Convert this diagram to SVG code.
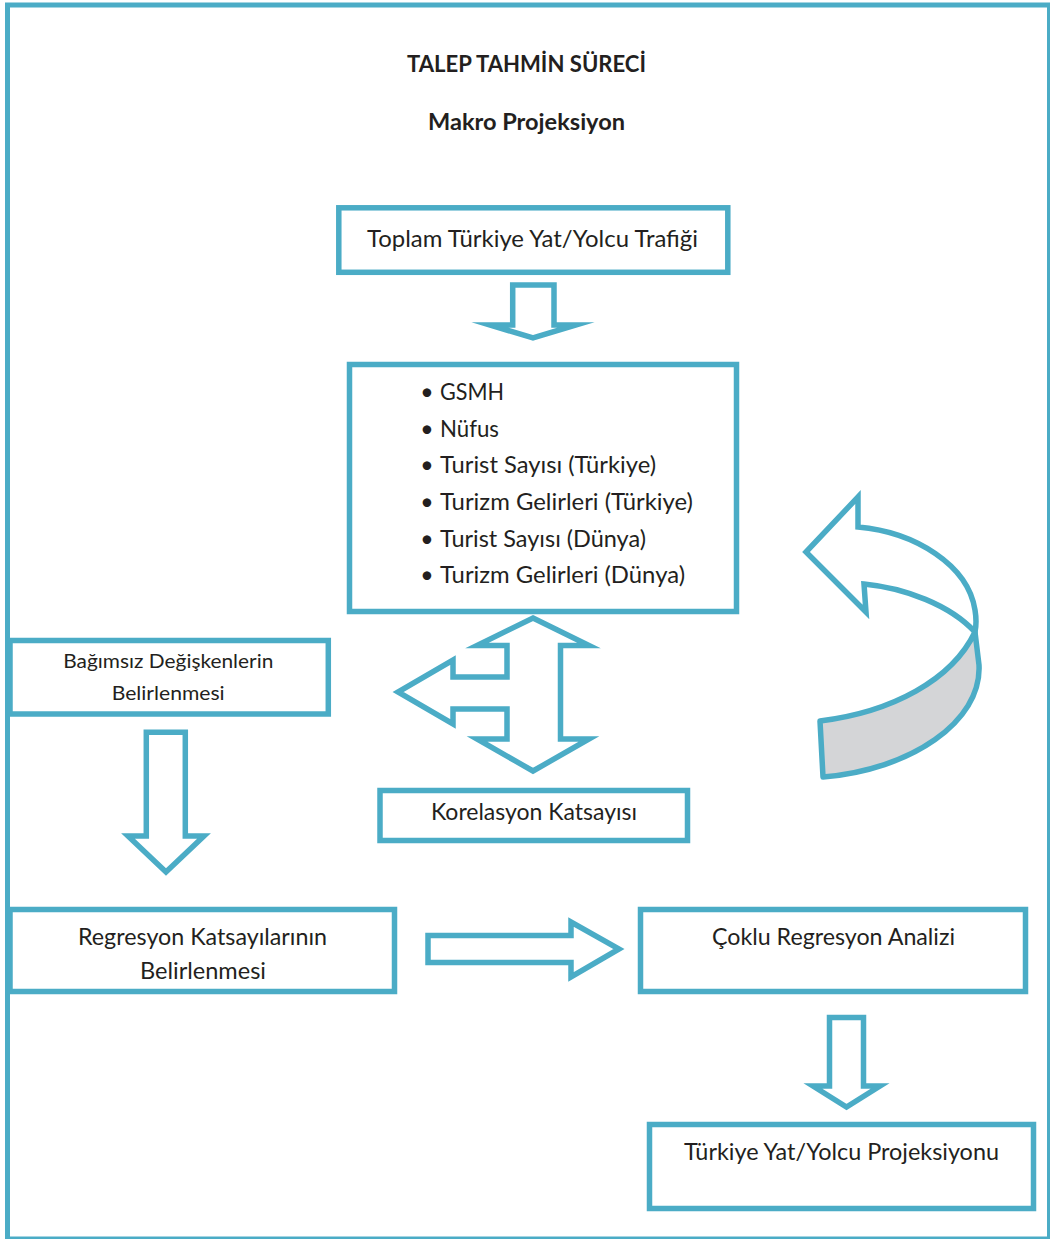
<svg xmlns="http://www.w3.org/2000/svg" width="1050" height="1239" viewBox="0 0 1050 1239">
<style>
.box{fill:#fff;stroke:#4BACC6;stroke-width:5.5}
.arr{fill:#fff;stroke:#4BACC6;stroke-width:5.5;stroke-linejoin:miter;stroke-miterlimit:10}
.t{font-family:Lato,"Open Sans","Liberation Sans",sans-serif;font-size:23px;fill:#231F20}
.s{font-size:19.5px}
.b{font-weight:bold;font-size:22px}
</style>
<rect x="0" y="0" width="1050" height="1239" fill="#fff"/>
<rect id="frame" x="7.5" y="5" width="1042" height="1234" fill="none" stroke="#4BACC6" stroke-width="5"/>

<g id="title">
<text class="t b" x="407" y="72" textLength="239" lengthAdjust="spacingAndGlyphs">TALEP TAHMİN SÜRECİ</text>
<text class="t b" x="428" y="130" textLength="197" lengthAdjust="spacingAndGlyphs">Makro Projeksiyon</text>
</g>

<g id="connectors">
<polygon class="arr" points="512.7,285 554,285 554,325 576,325 533,338 490,325 512.7,325"/>
<polygon class="arr" points="533,618 589,645.5 560.5,645.5 560.5,739 589,739 533,771 477,739 507,739 507,709 453,709 453,724 398,692 453,660 453,677 507,677 507,645.5 477,645.5"/>
<g id="loop-arrow">
<path d="M975,632 L979,665 C982,722 910,770 823,777 L820,721 C892,712 952,680 975,632 Z" fill="#D4D5D7" stroke="#4BACC6" stroke-width="5.5" stroke-linejoin="round"/>
<path d="M858,527 L858,497 L806,552 L866,612 L864,584 C905,588 950,605 975,632 C977,622 976,616 975,610 C968,565 915,532 858,527 Z" class="arr"/>
</g>
<polygon class="arr" points="146.3,732.3 185.3,732.3 185.3,836 204,836 166,872 128,836 146.3,836"/>
<polygon class="arr" points="428,935.5 571,935.5 571,922 619,949 571,977 571,962.5 428,962.5"/>
<polygon class="arr" points="829.5,1017.5 863.5,1017.5 863.5,1086 880,1086 846.5,1107 813,1086 829.5,1086"/>
</g>

<g id="node-toplam">
<rect class="box" x="338.8" y="207.8" width="389" height="64.5"/>
<text class="t" x="367" y="247" textLength="331" lengthAdjust="spacingAndGlyphs">Toplam Türkiye Yat/Yolcu Trafiği</text>
</g>

<g id="node-degiskenler">
<rect class="box" x="349.5" y="364.5" width="387" height="247"/>
<g class="t">
<text x="427" y="400" text-anchor="middle">•</text>
<text x="427" y="436.7" text-anchor="middle">•</text>
<text x="427" y="473.3" text-anchor="middle">•</text>
<text x="427" y="510" text-anchor="middle">•</text>
<text x="427" y="546.7" text-anchor="middle">•</text>
<text x="427" y="583.3" text-anchor="middle">•</text>
<text x="440" y="400" textLength="64" lengthAdjust="spacingAndGlyphs">GSMH</text>
<text x="440" y="436.7" textLength="59" lengthAdjust="spacingAndGlyphs">Nüfus</text>
<text x="440" y="473.3" textLength="216" lengthAdjust="spacingAndGlyphs">Turist Sayısı (Türkiye)</text>
<text x="440" y="510" textLength="253" lengthAdjust="spacingAndGlyphs">Turizm Gelirleri (Türkiye)</text>
<text x="440" y="546.7" textLength="206" lengthAdjust="spacingAndGlyphs">Turist Sayısı (Dünya)</text>
<text x="440" y="583.3" textLength="245" lengthAdjust="spacingAndGlyphs">Turizm Gelirleri (Dünya)</text>
</g>
</g>

<g id="node-bagimsiz">
<rect class="box" x="10" y="640.5" width="318.3" height="73.5"/>
<text class="t s" x="63.3" y="668.3" textLength="210" lengthAdjust="spacingAndGlyphs">Bağımsız Değişkenlerin</text>
<text class="t s" x="111.7" y="700" textLength="113" lengthAdjust="spacingAndGlyphs">Belirlenmesi</text>
</g>

<g id="node-korelasyon">
<rect class="box" x="380" y="790.5" width="307.5" height="50"/>
<text class="t" x="431" y="820" textLength="206" lengthAdjust="spacingAndGlyphs">Korelasyon Katsayısı</text>
</g>

<g id="node-regresyon">
<rect class="box" x="10" y="909.5" width="384.5" height="82"/>
<text class="t" x="78" y="945" textLength="249" lengthAdjust="spacingAndGlyphs">Regresyon Katsayılarının</text>
<text class="t" x="140" y="979" textLength="126" lengthAdjust="spacingAndGlyphs">Belirlenmesi</text>
</g>

<g id="node-coklu">
<rect class="box" x="640.5" y="909.5" width="385" height="82"/>
<text class="t" x="712" y="945" textLength="243" lengthAdjust="spacingAndGlyphs">Çoklu Regresyon Analizi</text>
</g>

<g id="node-projeksiyon">
<rect class="box" x="649.5" y="1124.5" width="384" height="84"/>
<text class="t" x="684" y="1160" textLength="315" lengthAdjust="spacingAndGlyphs">Türkiye Yat/Yolcu Projeksiyonu</text>
</g>
</svg>
